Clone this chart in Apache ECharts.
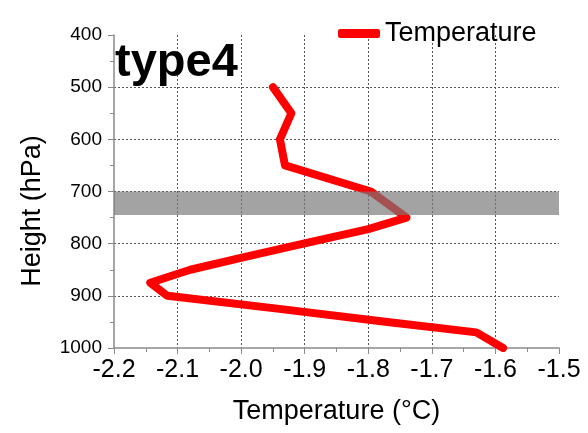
<!DOCTYPE html>
<html>
<head>
<meta charset="utf-8">
<script src="https://cdn.jsdelivr.net/npm/echarts@6/dist/echarts.min.js"></script>
<style>
html,body{margin:0;padding:0;background:#fff;}
#chart{width:588px;height:433px;}
</style>
</head>
<body>
<div id="chart"></div>
<script>
// Data
var pressure = [500, 550, 600, 650, 700, 750, 772, 800, 825, 850, 875, 900, 925, 950, 970, 1000];
var temperature = [-1.95, -1.921, -1.939, -1.931, -1.796, -1.740, -1.800, -1.902, -1.992, -2.080, -2.143, -2.116, -1.940, -1.770, -1.630, -1.588];
var seriesName = 'Temperature';
var bandRange = [700, 745];
var xTickLabels = ['-2.2', '-2.1', '-2.0', '-1.9', '-1.8', '-1.7', '-1.6', '-1.5'];
var yTickLabels = ['400', '500', '600', '700', '800', '900', '1000'];
var titleText = 'type4';
var xName = 'Temperature (\u00B0C)';
var yName = 'Height (hPa)';

var lineData = temperature.map(function (t, i) { return [t, pressure[i]]; });
var FONT = "Arial, 'Liberation Sans', sans-serif";
var axisGray = '#8a8a8a';

var chart = echarts.init(document.getElementById('chart'), null, {renderer: 'canvas'});
chart.setOption({
  animation: false,
  backgroundColor: '#fff',
  textStyle: {fontFamily: FONT},
  title: {
    text: titleText,
    left: 115,
    top: 40,
    padding: 0,
    textStyle: {fontSize: 47, fontWeight: 'bold', color: '#000', fontFamily: FONT}
  },
  legend: {
    data: [seriesName],
    left: 333,
    top: 15,
    icon: 'roundRect',
    itemWidth: 42,
    itemHeight: 9,
    itemStyle: {color: '#ff0000'},
    textStyle: {fontSize: 27, color: '#000', fontFamily: FONT, padding: [0, 0, 14, 0]}
  },
  grid: {left: 114, right: 29, top: 35, bottom: 85, containLabel: false},
  xAxis: {
    type: 'value',
    min: -2.2,
    max: -1.5,
    interval: 0.1,
    name: xName,
    nameLocation: 'middle',
    nameGap: 50,
    nameTextStyle: {fontSize: 27, color: '#000', fontFamily: FONT},
    axisLine: {show: true, onZero: false, lineStyle: {color: axisGray, width: 1.5}},
    axisTick: {show: true, length: 6, lineStyle: {color: axisGray, width: 1}},
    minorTick: {show: true, splitNumber: 2, length: 4, lineStyle: {color: axisGray, width: 1}},
    axisLabel: {
      fontSize: 25, color: '#000', margin: 10, fontFamily: FONT,
      formatter: function (v) {
        var idx = Math.round((v + 2.2) / 0.1);
        return xTickLabels[idx] !== undefined ? xTickLabels[idx] : v.toFixed(1);
      }
    },
    splitLine: {show: true, showMinLine: false, showMaxLine: false, lineStyle: {color: '#555', width: 1, type: [2, 2]}}
  },
  yAxis: {
    type: 'value',
    inverse: true,
    min: 400,
    max: 1000,
    interval: 100,
    name: yName,
    nameLocation: 'middle',
    nameGap: 68,
    nameTextStyle: {fontSize: 27, color: '#000', fontFamily: FONT, padding: [0, 39, 0, 0]},
    axisLine: {show: true, onZero: false, lineStyle: {color: axisGray, width: 1.5}},
    axisTick: {show: true, length: 6, lineStyle: {color: axisGray, width: 1}},
    minorTick: {show: true, splitNumber: 2, length: 4, lineStyle: {color: axisGray, width: 1}},
    axisLabel: {
      fontSize: 19, color: '#000', margin: 12, fontFamily: FONT,
      formatter: function (v) {
        var idx = Math.round((v - 400) / 100);
        return yTickLabels[idx] !== undefined ? yTickLabels[idx] : String(v);
      }
    },
    splitLine: {show: true, showMinLine: false, showMaxLine: false, lineStyle: {color: '#555', width: 1, type: [2, 2]}}
  },
  series: [
    {
      name: seriesName,
      type: 'line',
      data: lineData,
      symbol: 'none',
      z: 2,
      lineStyle: {color: '#ff0000', width: 8, cap: 'round', join: 'round'},
      itemStyle: {color: '#ff0000'}
    },
    {
      type: 'line',
      data: [],
      z: 5,
      silent: true,
      markArea: {
        silent: true,
        z: 5,
        itemStyle: {color: 'rgba(120,120,120,0.68)'},
        data: [[{yAxis: bandRange[0]}, {yAxis: bandRange[1]}]]
      }
    }
  ]
});
</script>
</body>
</html>
